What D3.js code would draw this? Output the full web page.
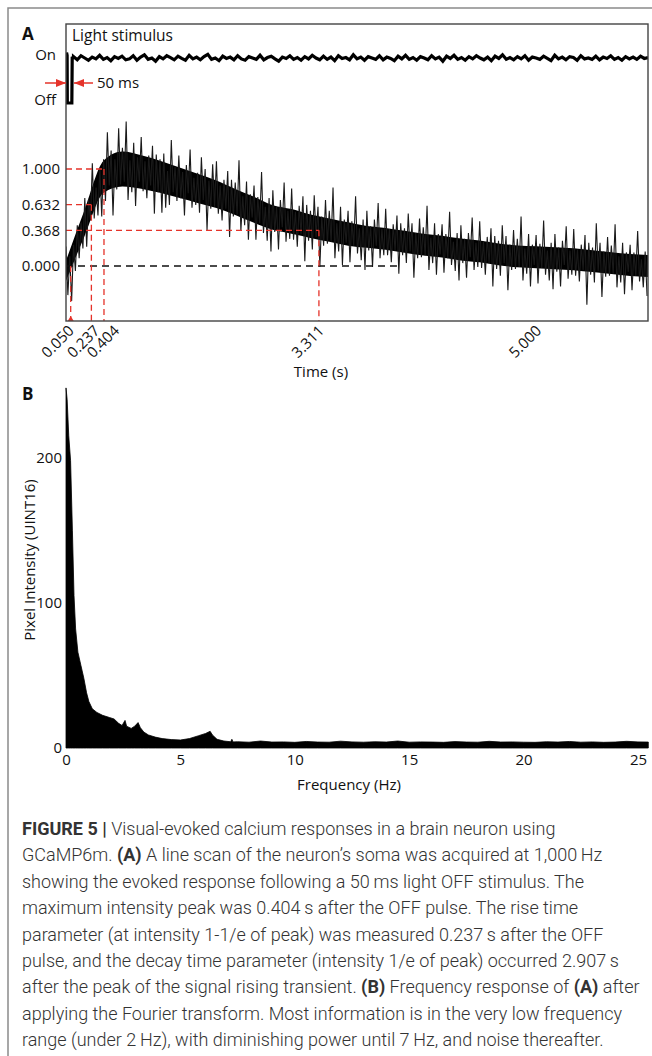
<!DOCTYPE html>
<html>
<head>
<meta charset="utf-8">
<script src="https://cdnjs.cloudflare.com/ajax/libs/d3/7.8.5/d3.min.js"></script>
<style>
  body { margin: 0; background: #fff; }
  svg text { font-family: "Open Sans", "Noto Sans", sans-serif; fill: #111; }
  .caption text { font-family: Roboto, "Liberation Sans", sans-serif; fill: #333; }
</style>
</head>
<body>
<div id="chart"></div>
<script>
// ---------------- data ----------------
// panel A : time axis (drawn position in s) and printed labels
const timeTickValues = [0.05, 0.27, 0.404, 2.69, 5.0];
const timeTickLabels = ['0.050', '0.237', '0.404', '3.311', '5.000'];
const levelValues = [0, 0.368, 0.632, 1];
const levelLabels = ['0.000', '0.368', '0.632', '1.000'];
const zeroLineEnd = 3.52;

// light stimulus: OFF pulse then noisy ON level (from 0.08 s to the end)
const pulseTime = [0, 0.006, 0.012, 0.014, 0.062, 0.066, 0.08];
const pulseValue = [0.96, 1.12, 1.06, 0, 0, 1.0, 1.01];
const stimulus = [
  1.03, 0.96, 1.05, 1.00, 0.95, 1.02, 0.98, 1.06, 0.97, 1.01,
  0.94, 1.03, 0.99, 1.04, 0.96, 0.98, 1.05, 0.95, 1.02, 1.07,
  0.97, 1.00, 0.93, 1.03, 0.98, 1.05, 1.01, 0.96, 1.04, 0.99,
  0.95, 1.06, 0.98, 1.02, 0.96, 1.03, 1.08, 0.97, 1.00, 0.94,
  1.04, 0.99, 1.02, 0.96, 1.05, 0.98, 0.95, 1.03, 1.00, 0.97,
  1.06, 0.96, 1.01, 1.04, 0.98, 0.93, 1.02, 0.99, 1.05, 0.97,
  1.01, 0.95, 1.03, 0.98, 1.06, 1.00, 0.96, 1.04, 0.97, 1.02,
  0.94, 1.05, 0.99, 1.01, 0.96, 1.07, 0.98, 1.02, 0.95, 1.03,
  1.00, 0.97, 1.05, 0.96, 1.02, 0.99, 0.94, 1.04, 0.98, 1.06,
  0.97, 1.01, 0.95, 1.03, 1.00, 0.96, 1.05, 0.98, 1.02, 0.93,
  1.04, 0.99, 1.06, 0.97, 1.01, 0.95, 1.03, 0.98, 1.05, 1.00,
  0.96, 1.02, 0.94, 1.04, 0.99, 1.07, 0.97, 1.01, 0.96, 1.03,
  0.98, 1.05, 0.95, 1.02, 1.00, 0.97, 1.04, 0.99, 0.94, 1.06,
  0.98, 1.02, 0.96, 1.03, 1.01, 0.95, 1.05, 0.98, 1.00, 0.97,
  1.04, 0.96, 1.02, 0.99, 1.05, 0.97, 1.01, 0.95, 1.03, 0.98,
  1.02, 0.97, 1.04, 0.99, 1.01
];

// calcium trace (normalised): dense core band every 0.2 s
const coreMid = [-0.05, 0.45, 0.92, 1.00, 0.97, 0.92, 0.86, 0.80, 0.74, 0.66, 0.58, 0.50, 0.46, 0.41, 0.37, 0.33,
  0.30, 0.28, 0.25, 0.22, 0.20, 0.17, 0.15, 0.12, 0.10, 0.09, 0.08, 0.07, 0.05, 0.03, 0.01, 0.00];
const coreSpread = [0.14, 0.18, 0.22, 0.24, 0.23, 0.22, 0.21, 0.2, 0.19, 0.18, 0.18, 0.17, 0.17, 0.16, 0.16, 0.16,
  0.15, 0.15, 0.15, 0.15, 0.15, 0.15, 0.15, 0.15, 0.15, 0.15, 0.15, 0.15, 0.15, 0.15, 0.15, 0.15];
// trace samples every 0.02 s
const trace = [
  0.20, -0.30, 0.10, -0.36, 0.22, -0.05, 0.42, 0.08, 0.45, 0.18,
  0.70, 0.20, 0.69, 0.47, 1.06, 0.49, 0.81, 0.52, 1.01, 0.51,
  1.10, 0.67, 1.38, 0.83, 1.19, 0.52, 1.10, 0.79, 1.42, 0.84,
  1.22, 0.87, 1.49, 0.68, 1.09, 0.76, 1.27, 0.62, 1.12, 0.87,
  1.33, 0.77, 1.08, 0.70, 1.14, 0.83, 1.24, 0.54, 1.15, 0.76,
  1.10, 0.55, 1.16, 0.60, 0.98, 0.63, 1.30, 0.76, 1.02, 0.67,
  1.14, 0.70, 0.97, 0.52, 1.04, 0.75, 1.20, 0.60, 0.91, 0.63,
  0.96, 0.55, 1.12, 0.68, 1.00, 0.37, 0.88, 0.59, 1.05, 0.61,
  1.08, 0.54, 0.83, 0.47, 0.89, 0.59, 0.98, 0.30, 0.89, 0.51,
  0.86, 0.53, 1.09, 0.36, 0.72, 0.42, 0.87, 0.27, 0.74, 0.50,
  0.83, 0.27, 0.71, 0.44, 0.97, 0.34, 0.61, 0.26, 0.70, 0.15,
  0.78, 0.35, 0.61, 0.17, 0.68, 0.40, 0.86, 0.25, 0.57, 0.28,
  0.80, 0.27, 0.56, 0.20, 0.62, 0.33, 0.72, 0.05, 0.63, 0.26,
  0.57, 0.17, 0.73, 0.30, 0.61, -0.01, 0.51, 0.21, 0.68, 0.23,
  0.57, 0.25, 0.81, 0.08, 0.44, 0.15, 0.61, 0.01, 0.48, 0.24,
  0.57, 0.04, 0.46, 0.21, 0.72, 0.13, 0.39, 0.06, 0.48, -0.04,
  0.57, 0.16, 0.41, -0.01, 0.48, 0.21, 0.65, 0.08, 0.38, 0.11,
  0.59, 0.11, 0.38, 0.04, 0.43, 0.16, 0.52, -0.08, 0.44, 0.11,
  0.39, 0.03, 0.54, 0.15, 0.44, -0.12, 0.34, 0.08, 0.49, 0.09,
  0.40, 0.11, 0.62, -0.04, 0.29, 0.03, 0.44, -0.09, 0.33, 0.12,
  0.43, -0.07, 0.33, 0.08, 0.56, 0.01, 0.25, -0.05, 0.34, -0.15,
  0.42, 0.03, 0.28, -0.12, 0.34, 0.09, 0.50, -0.04, 0.24, -0.01,
  0.46, -0.02, 0.25, -0.09, 0.30, 0.03, 0.39, -0.21, 0.31, -0.03,
  0.26, -0.10, 0.42, 0.03, 0.31, -0.25, 0.22, -0.04, 0.37, -0.03,
  0.28, -0.01, 0.51, -0.15, 0.18, -0.08, 0.33, -0.21, 0.22, 0.01,
  0.32, -0.18, 0.23, -0.02, 0.47, -0.09, 0.16, -0.15, 0.24, -0.24,
  0.33, -0.06, 0.19, -0.21, 0.26, 0.01, 0.41, -0.13, 0.16, -0.09,
  0.38, -0.10, 0.17, -0.16, 0.22, -0.04, 0.32, -0.40, 0.24, -0.09,
  0.19, -0.17, 0.44, -0.05, 0.24, -0.32, 0.15, -0.11, 0.30, -0.10,
  0.21, -0.08, 0.43, -0.22, 0.10, -0.17, 0.24, -0.29, 0.14, -0.06,
  0.22, -0.25, 0.14, -0.10, 0.36, -0.16, 0.07, -0.22, 0.15, -0.31
];
const traceStep = 0.02;
// rise / peak / decay markers: [drawn time, level]
const markerTime = [0.05, 0.27, 0.404, 2.69];
const markerLevel = [0, 0.632, 1, 0.368];

// panel B : frequency spectrum
const specFreq = [0, 0.05, 0.12, 0.2, 0.28, 0.35, 0.42, 0.52, 0.65, 0.78, 0.9, 1.0, 1.15, 1.35, 1.6, 1.9, 2.1, 2.3,
  2.45, 2.58, 2.65, 2.85, 3.0, 3.15, 3.25, 3.4, 3.6, 3.9, 4.2, 4.6, 5.0, 5.4, 5.8, 6.1, 6.3, 6.4, 6.6, 6.9, 7.2,
  7.25, 7.3, 7.5, 8.0, 8.5, 9.0, 9.5, 10.0, 10.5, 11.0, 11.5, 12.0, 12.5, 13.0, 13.5, 14.0, 14.5, 15.0, 15.5,
  16.0, 16.5, 17.0, 17.5, 18.0, 18.5, 19.0, 19.5, 20.0, 20.5, 21.0, 21.5, 22.0, 22.5, 23.0, 23.5, 24.0, 24.5,
  25.0, 25.45];
const specAmp = [248, 240, 215, 198, 150, 105, 82, 66, 57, 48, 38, 32, 27, 24.5, 22.5, 21, 20, 17,
  15.5, 19, 15, 13.5, 15, 17.5, 14, 11, 9, 7.5, 6.5, 5.8, 5.5, 6.5, 8.5, 10, 11.5, 9, 6, 4.8, 4.3,
  6.0, 4.2, 4.3, 4.0, 4.8, 4.1, 4.2, 3.9, 4.5, 4.1, 4.0, 4.7, 4.2, 4.0, 4.3, 4.1, 4.8, 4.0, 4.2,
  4.1, 3.9, 4.4, 4.1, 4.0, 4.6, 4.1, 4.2, 4.0, 3.9, 4.3, 4.1, 4.5, 4.0, 4.2, 3.9, 4.1, 4.6,
  4.2, 4.1];
const freqTicks = [0, 5, 10, 15, 20, 25];
const ampTicks = [0, 100, 200];

const captionLines = [
  [['FIGURE 5 |', true], [' Visual-evoked calcium responses in a brain neuron using', false]],
  [['GCaMP6m. ', false], ['(A)', true], [' A line scan of the neuron\u2019s soma was acquired at 1,000\u2009Hz', false]],
  [['showing the evoked response following a 50\u2009ms light OFF stimulus. The', false]],
  [['maximum intensity peak was 0.404\u2009s after the OFF pulse. The rise time', false]],
  [['parameter (at intensity 1-1/e of peak) was measured 0.237\u2009s after the OFF', false]],
  [['pulse, and the decay time parameter (intensity 1/e of peak) occurred 2.907\u2009s', false]],
  [['after the peak of the signal rising transient. ', false], ['(B)', true], [' Frequency response of ', false], ['(A)', true], [' after', false]],
  [['applying the Fourier transform. Most information is in the very low frequency', false]],
  [['range (under 2\u2009Hz), with diminishing power until 7\u2009Hz, and noise thereafter.', false]]
];

// ---------------- layout ----------------
const W = 652, H = 1056;
const boxA = { left: 66, right: 648, top: 24, bottom: 321 };
const plotB = { left: 66, right: 648, top: 385, bottom: 748 };
const tickNudge = [0, 5, 12, 2, 2];   // keeps crowded rotated labels apart
const red = '#e5332a';

const svg = d3.select('#chart').append('svg')
  .attr('width', W).attr('height', H);

// outer frame (top + left)
svg.append('path')
  .attr('d', `M8,${H} L8,8 L${W},8`)
  .attr('fill', 'none').attr('stroke', '#8a8a8a').attr('stroke-width', 1.5);

// ---------------- panel A ----------------
const xA = d3.scaleLinear().domain([0, 6.19]).range([boxA.left, boxA.right]);
const yA = d3.scaleLinear().domain([-0.567, 2.495]).range([boxA.bottom, boxA.top]);
const yS = d3.scaleLinear().domain([0, 1]).range([103, 58]);

const gA = svg.append('g');
gA.append('clipPath').attr('id', 'clipA').append('rect')
  .attr('x', boxA.left).attr('y', boxA.top)
  .attr('width', boxA.right - boxA.left).attr('height', boxA.bottom - boxA.top);

// dense core of the response
const coreData = coreMid.map((m, i) => ({ t: i * 0.2, m, s: coreSpread[i] }));
gA.append('path')
  .datum(coreData)
  .attr('clip-path', 'url(#clipA)')
  .attr('fill', '#000')
  .attr('d', d3.area().curve(d3.curveMonotoneX)
    .x(d => xA(d.t)).y0(d => yA(d.m - d.s * 0.75)).y1(d => yA(d.m + d.s * 0.75)));

// noisy samples
gA.append('path')
  .datum(trace.map((v, i) => ({ t: i * traceStep, v })))
  .attr('clip-path', 'url(#clipA)')
  .attr('fill', 'none').attr('stroke', '#1a1a1a').attr('stroke-width', 1.1)
  .attr('d', d3.line().x(d => xA(d.t)).y(d => yA(d.v)));

// stimulus trace
const stimStep = (6.19 - 0.08) / (stimulus.length - 1);
const stimData = pulseTime.map((t, i) => ({ t, v: pulseValue[i] }))
  .concat(stimulus.map((v, i) => ({ t: 0.08 + i * stimStep, v })));
gA.append('path')
  .datum(stimData)
  .attr('clip-path', 'url(#clipA)')
  .attr('fill', 'none').attr('stroke', '#000').attr('stroke-width', 3.2)
  .attr('stroke-linejoin', 'miter')
  .attr('d', d3.line().x(d => xA(d.t)).y(d => yS(d.v)));

// dashed guide lines
const markers = markerTime.map((t, i) => ({ t, level: markerLevel[i] }));
gA.selectAll('line.hguide')
  .data(markers.filter(d => d.level > 0))
  .join('line').attr('class', 'hguide')
  .attr('x1', xA(0)).attr('x2', d => xA(d.t))
  .attr('y1', d => yA(d.level)).attr('y2', d => yA(d.level))
  .attr('stroke', red).attr('stroke-width', 1.3).attr('stroke-dasharray', '6,4');
gA.append('line')
  .attr('x1', xA(0)).attr('x2', xA(zeroLineEnd))
  .attr('y1', yA(0)).attr('y2', yA(0))
  .attr('stroke', '#111').attr('stroke-width', 1.3).attr('stroke-dasharray', '7,5');
gA.selectAll('line.vguide')
  .data(markers)
  .join('line').attr('class', 'vguide')
  .attr('x1', d => xA(d.t)).attr('x2', d => xA(d.t))
  .attr('y1', d => yA(d.level)).attr('y2', boxA.bottom)
  .attr('stroke', red).attr('stroke-width', 1.3).attr('stroke-dasharray', '6,4');
gA.append('path')
  .attr('d', `M${xA(markerTime[0]) - 3},${boxA.bottom} L${xA(markerTime[0])},${boxA.bottom - 5} L${xA(markerTime[0]) + 3},${boxA.bottom} Z`)
  .attr('fill', red);

// box
gA.append('rect')
  .attr('x', boxA.left).attr('y', boxA.top)
  .attr('width', boxA.right - boxA.left).attr('height', boxA.bottom - boxA.top)
  .attr('fill', 'none').attr('stroke', '#444').attr('stroke-width', 1.4);

// axes
const axA = gA.append('g')
  .attr('transform', `translate(0,${boxA.bottom})`)
  .call(d3.axisBottom(xA).tickValues(timeTickValues)
    .tickFormat((d, i) => timeTickLabels[i]).tickSize(0));
axA.select('.domain').remove();
axA.selectAll('text')
  .attr('font-size', 15).attr('font-family', null)
  .attr('text-anchor', 'end')
  .attr('x', 0).attr('y', 0).attr('dy', '0.35em')
  .attr('transform', (d, i) => `translate(${tickNudge[i]},7) rotate(-45)`);

const ayA = gA.append('g')
  .attr('transform', `translate(${boxA.left},0)`)
  .call(d3.axisLeft(yA).tickValues(levelValues)
    .tickFormat((d, i) => levelLabels[i]).tickSize(0).tickPadding(6));
ayA.select('.domain').remove();
ayA.selectAll('text').attr('font-size', 15).attr('font-family', null);

const ayS = gA.append('g')
  .attr('transform', `translate(${boxA.left},0)`)
  .call(d3.axisLeft(yS).tickValues([1, 0])
    .tickFormat(d => (d ? 'On' : 'Off')).tickSize(0).tickPadding(10));
ayS.select('.domain').remove();
ayS.selectAll('text').attr('font-size', 15).attr('font-family', null).attr('dy', '0.1em');

gA.append('text').attr('x', 72).attr('y', 41).attr('font-size', 15.5).text('Light stimulus');
gA.append('text').attr('x', 22).attr('y', 40).attr('font-size', 17)
  .attr('font-weight', 'bold').attr('font-family', 'Liberation Sans, Arial, sans-serif').text('A');
gA.append('text').attr('x', 321).attr('y', 377).attr('text-anchor', 'middle')
  .attr('font-size', 15).text('Time (s)');

// 50 ms annotation arrows
const arrowY = 83;
const defs = svg.append('defs');
defs.append('marker').attr('id', 'arr').attr('viewBox', '0 0 10 10')
  .attr('refX', 10).attr('refY', 5).attr('markerWidth', 7).attr('markerHeight', 7)
  .attr('orient', 'auto')
  .append('path').attr('d', 'M0,1 L10,5 L0,9 Z').attr('fill', red);
gA.append('line')
  .attr('x1', xA(0) - 21).attr('x2', xA(0)).attr('y1', arrowY).attr('y2', arrowY)
  .attr('stroke', red).attr('stroke-width', 1.5).attr('marker-end', 'url(#arr)');
gA.append('line')
  .attr('x1', xA(0.085) + 19).attr('x2', xA(0.085)).attr('y1', arrowY).attr('y2', arrowY)
  .attr('stroke', red).attr('stroke-width', 1.5).attr('marker-end', 'url(#arr)');
gA.append('text').attr('x', 97).attr('y', arrowY).attr('dy', '0.35em')
  .attr('font-size', 15).text('50 ms');

// ---------------- panel B ----------------
const xB = d3.scaleLinear().domain([0, 25]).range([plotB.left, 638]);
const yB = d3.scaleLinear().domain([0, 250]).range([plotB.bottom, plotB.top]);
const gB = svg.append('g');

gB.append('path')
  .datum(specFreq.map((f, i) => ({ f, a: specAmp[i] })))
  .attr('fill', '#000')
  .attr('stroke', '#000').attr('stroke-width', 0.8)
  .attr('d', d3.area().x(d => xB(d.f)).y0(yB(0)).y1(d => yB(d.a)));

const axB = gB.append('g')
  .attr('transform', `translate(0,${plotB.bottom})`)
  .call(d3.axisBottom(xB).tickValues(freqTicks).tickSize(0).tickPadding(6));
axB.select('.domain').remove();
axB.selectAll('text').attr('font-size', 15).attr('font-family', null);

const ayB = gB.append('g')
  .attr('transform', `translate(${plotB.left},0)`)
  .call(d3.axisLeft(yB).tickValues(ampTicks).tickSize(0).tickPadding(4));
ayB.select('.domain').remove();
ayB.selectAll('text').attr('font-size', 15).attr('font-family', null);

gB.append('text').attr('x', 349).attr('y', 790).attr('text-anchor', 'middle')
  .attr('font-size', 15).text('Frequency (Hz)');
gB.append('text').attr('transform', 'translate(35,560) rotate(-90)')
  .attr('text-anchor', 'middle').attr('font-size', 15).text('Pixel Intensity (UINT16)');
gB.append('text').attr('x', 22).attr('y', 400).attr('font-size', 17)
  .attr('font-weight', 'bold').attr('font-family', 'Liberation Sans, Arial, sans-serif').text('B');

// ---------------- caption ----------------
const cap = svg.append('g').attr('class', 'caption');
captionLines.forEach((segs, i) => {
  const t = cap.append('text').attr('x', 22).attr('y', 835 + i * 26.4)
    .attr('font-size', 18).attr('font-weight', 300);
  segs.forEach(([s, b]) => {
    t.append('tspan').attr('font-weight', b ? 'bold' : null).text(s);
  });
});
</script>
</body>
</html>
